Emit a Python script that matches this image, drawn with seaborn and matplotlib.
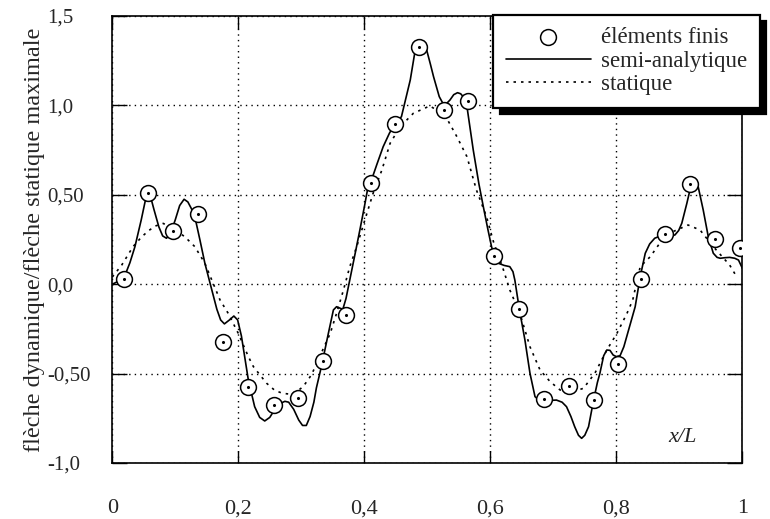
import matplotlib
matplotlib.use("Agg")
import matplotlib.pyplot as plt
import seaborn as sns
import pandas as pd

# finite element results (circles)
fe_x = [0.018, 0.056, 0.097, 0.136, 0.176, 0.216, 0.256, 0.295, 0.334, 0.371,
        0.411, 0.449, 0.487, 0.527, 0.565, 0.606, 0.646, 0.685, 0.725, 0.764,
        0.802, 0.840, 0.878, 0.917, 0.957, 0.996]
fe_y = [0.03, 0.51, 0.30, 0.39, -0.325, -0.573, -0.676, -0.638, -0.428, -0.172,
        0.566, 0.898, 1.325, 0.974, 1.026, 0.156, -0.137, -0.642, -0.569, -0.648,
        -0.445, 0.031, 0.279, 0.559, 0.251, 0.204]

# semi-analytical solution (solid line)
sa_x = [0.0, 0.018, 0.028, 0.036, 0.046, 0.052, 0.056, 0.060, 0.066, 0.074,
        0.080, 0.086, 0.092, 0.100, 0.107, 0.114, 0.120, 0.126, 0.131, 0.139,
        0.147, 0.158, 0.166, 0.172, 0.178, 0.186, 0.193, 0.199, 0.205, 0.216,
        0.226, 0.234, 0.242, 0.250, 0.258, 0.266, 0.274, 0.280, 0.288, 0.296,
        0.302, 0.308, 0.314, 0.320, 0.324, 0.332, 0.343, 0.351, 0.356, 0.362,
        0.366, 0.371, 0.377, 0.386, 0.393, 0.400, 0.406, 0.410, 0.420, 0.430,
        0.440, 0.449, 0.455, 0.459, 0.466, 0.473, 0.480, 0.485, 0.490, 0.495,
        0.499, 0.505, 0.510, 0.519, 0.527, 0.536, 0.542, 0.548, 0.553, 0.557,
        0.563, 0.573, 0.582, 0.589, 0.596, 0.602, 0.607, 0.613, 0.622, 0.631,
        0.636, 0.639, 0.646, 0.655, 0.663, 0.671, 0.678, 0.684, 0.695, 0.705,
        0.714, 0.721, 0.728, 0.734, 0.740, 0.745, 0.750, 0.756, 0.764, 0.770,
        0.774, 0.780, 0.785, 0.790, 0.795, 0.800, 0.806, 0.812, 0.820, 0.830,
        0.838, 0.846, 0.853, 0.861, 0.870, 0.878, 0.886, 0.893, 0.899, 0.904,
        0.912, 0.920, 0.925, 0.930, 0.938, 0.946, 0.954, 0.960, 0.965, 0.972,
        0.980, 0.988, 0.994, 1.000]
sa_y = [0.0, 0.03, 0.12, 0.21, 0.36, 0.46, 0.517, 0.50, 0.42, 0.32,
        0.27, 0.257, 0.28, 0.36, 0.44, 0.475, 0.46, 0.42, 0.378, 0.25,
        0.117, -0.032, -0.14, -0.20, -0.222, -0.20, -0.178, -0.20, -0.29, -0.536,
        -0.685, -0.745, -0.765, -0.745, -0.70, -0.668, -0.655, -0.660, -0.70, -0.76,
        -0.790, -0.79, -0.74, -0.66, -0.58, -0.46, -0.275, -0.144, -0.126, -0.135,
        -0.14, -0.08, 0.023, 0.18, 0.303, 0.43, 0.545, 0.568, 0.67, 0.769,
        0.845, 0.898, 0.92, 0.937, 1.04, 1.142, 1.291, 1.33, 1.338, 1.325,
        1.31, 1.23, 1.16, 1.049, 0.997, 1.03, 1.06, 1.071, 1.065, 1.049,
        0.993, 0.75, 0.56, 0.433, 0.31, 0.21, 0.15, 0.117, 0.105, 0.098,
        0.07, 0.023, -0.137, -0.312, -0.498, -0.629, -0.650, -0.652, -0.650, -0.648,
        -0.66, -0.685, -0.74, -0.797, -0.845, -0.862, -0.845, -0.797, -0.648, -0.55,
        -0.498, -0.40, -0.368, -0.37, -0.396, -0.405, -0.40, -0.35, -0.25, -0.126,
        0.042, 0.173, 0.225, 0.257, 0.27, 0.275, 0.272, 0.275, 0.30, 0.341,
        0.452, 0.573, 0.57, 0.545, 0.415, 0.266, 0.173, 0.15, 0.145, 0.148,
        0.150, 0.145, 0.135, 0.09]

# static solution (dotted line)
st_x = [0.0, 0.015, 0.033, 0.047, 0.058, 0.068, 0.081, 0.094, 0.105, 0.115,
        0.131, 0.147, 0.158, 0.171, 0.184, 0.200, 0.216, 0.224, 0.235, 0.245,
        0.258, 0.270, 0.282, 0.293, 0.303, 0.316, 0.325, 0.335, 0.346, 0.356,
        0.367, 0.377, 0.388, 0.401, 0.414, 0.428, 0.441, 0.457, 0.478, 0.504,
        0.528, 0.547, 0.563, 0.578, 0.594, 0.605, 0.621, 0.631, 0.647, 0.663,
        0.679, 0.695, 0.711, 0.732, 0.748, 0.766, 0.785, 0.801, 0.817, 0.826,
        0.838, 0.854, 0.869, 0.890, 0.914, 0.933, 0.954, 0.980, 0.991]
st_y = [0.04, 0.107, 0.21, 0.266, 0.30, 0.325, 0.34, 0.313, 0.29, 0.266,
        0.21, 0.117, 0.023, -0.088, -0.163, -0.275, -0.405, -0.461, -0.51, -0.554,
        -0.594, -0.61, -0.615, -0.60, -0.573, -0.508, -0.44, -0.36, -0.275, -0.163,
        -0.032, 0.098, 0.21, 0.36, 0.508, 0.639, 0.788, 0.881, 0.956, 0.997,
        0.946, 0.825, 0.713, 0.527, 0.378, 0.238, 0.079, -0.032, -0.163, -0.35,
        -0.48, -0.545, -0.592, -0.601, -0.582, -0.498, -0.368, -0.275, -0.163, -0.09,
        0.098, 0.154, 0.229, 0.294, 0.331, 0.303, 0.21, 0.107, 0.042]

x_ticks = [0, 0.2, 0.4, 0.6, 0.8, 1]
x_labels = ['0', '0,2', '0,4', '0,6', '0,8', '1']
y_ticks = [-1.0, -0.5, 0.0, 0.5, 1.0, 1.5]
y_labels = ['-1,0', '-0,50', '0,0', '0,50', '1,0', '1,5']

sns.set_style('ticks')
plt.rcParams['font.family'] = ['Liberation Serif', 'DejaVu Serif']

fig = plt.figure(figsize=(7.7, 5.19), dpi=100)
ax = fig.add_axes([0.1458, 0.1079, 0.8182, 0.8613])

sa = pd.DataFrame({'x': sa_x, 'y': sa_y})
st = pd.DataFrame({'x': st_x, 'y': st_y})
fe = pd.DataFrame({'x': fe_x, 'y': fe_y})

sns.lineplot(data=st, x='x', y='y', ax=ax, color='black', lw=1.2,
             linestyle=(0, (1.5, 3)), label='statique', zorder=3)
sns.lineplot(data=sa, x='x', y='y', ax=ax, color='black', lw=1.2,
             label='semi-analytique', zorder=3)
sns.scatterplot(data=fe, x='x', y='y', ax=ax, s=130, facecolor='white',
                edgecolor='black', linewidth=1.1, label='éléments finis', zorder=4)
ax.scatter(fe_x, fe_y, s=1.5, color='black', zorder=5)

ax.set_xlim(0, 1)
ax.set_ylim(-1.0, 1.5)
ax.set_xticks(x_ticks, x_labels, fontsize=16)
ax.set_yticks(y_ticks, y_labels, fontsize=15)
for t in ax.get_yticklabels():
    t.set_horizontalalignment('left')
ax.tick_params(axis='y', direction='in', length=11, width=1, pad=47,
               left=True, right=True, color='black')
ax.tick_params(axis='x', direction='in', length=9, width=1, pad=26,
               bottom=True, top=True, color='black')
ax.grid(True, color='black', linestyle=(0, (1, 3)), linewidth=1)
for s in ax.spines.values():
    s.set_color('black')
    s.set_linewidth(1.2)

ax.set_xlabel('')
ax.set_ylabel('flèche dynamique/flèche statique maximale', fontsize=17.5)
ax.yaxis.set_label_coords(-0.106, 0.5)
ax.text(0.905, 0.056, 'x/L', transform=ax.transAxes, fontsize=16,
        style='italic', ha='center', va='center')

h, l = ax.get_legend_handles_labels()
order = [l.index('éléments finis'), l.index('semi-analytique'), l.index('statique')]
leg = ax.legend([h[i] for i in order], [l[i] for i in order],
                loc='upper right', bbox_to_anchor=(1.028, 1.003), borderaxespad=0,
                fontsize=16.5, handlelength=3.7, handletextpad=0.45, labelspacing=0.1,
                borderpad=0.55, fancybox=False, framealpha=1, edgecolor='black',
                shadow={'ox': 4.5, 'oy': -4.5, 'facecolor': 'black',
                        'edgecolor': 'black', 'alpha': 1})
leg.get_frame().set_linewidth(1.6)
leg.set_zorder(10)

fig.savefig('out.png', dpi=100)
